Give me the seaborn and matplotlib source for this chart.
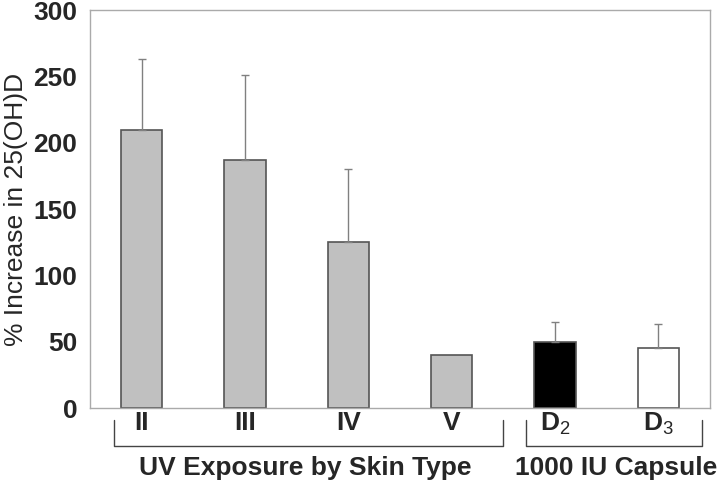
import matplotlib
matplotlib.use("Agg")
import matplotlib.pyplot as plt
import seaborn as sns

# data
groups = ["II", "III", "IV", "V", "D$_2$", "D$_3$"]
increase = [210, 187, 125, 40, 50, 45]
err_up = [53, 64, 55, 0, 15, 18]
bar_colors = ["#c0c0c0", "#c0c0c0", "#c0c0c0", "#c0c0c0", "#000000", "#ffffff"]

sns.set_style("white")
plt.rcParams["font.family"] = ["Liberation Sans", "DejaVu Sans"]
plt.rcParams["mathtext.fontset"] = "custom"
plt.rcParams["mathtext.rm"] = "Liberation Sans"
plt.rcParams["mathtext.it"] = "Liberation Sans"
plt.rcParams["mathtext.bf"] = "Liberation Sans:bold"

fig = plt.figure(figsize=(7.2, 4.84), dpi=100)
ax = fig.add_axes([0.125, 0.157, 0.861, 0.822])

sns.barplot(x=groups, y=increase, hue=groups, palette=bar_colors, legend=False,
            width=0.4, edgecolor="#555555", linewidth=1.2, ax=ax)

# upward-only error bars
idx = [i for i, e in enumerate(err_up) if e > 0]
ax.errorbar(idx, [increase[i] for i in idx],
            yerr=[[0] * len(idx), [err_up[i] for i in idx]],
            fmt="none", ecolor="#808080", elinewidth=1.0, capsize=3, capthick=1.0)

ax.set_xlim(-0.5, 5.5)
ax.set_ylim(0, 300)
ax.set_yticks([0, 50, 100, 150, 200, 250, 300])
ax.set_xticks(range(len(groups)))
ax.set_xticklabels(groups, fontsize=19, fontweight="bold")
ax.set_xticks([0.5, 1.5, 2.5, 3.5, 4.5], minor=True)
ax.tick_params(axis="x", which="major", length=0, pad=2)
ax.tick_params(axis="x", which="minor", length=4, color="#999999", direction="out")
ax.tick_params(axis="y", length=4, color="#999999", direction="out", labelsize=19, pad=5)
for lab in ax.get_yticklabels():
    lab.set_fontweight("bold")
ax.set_ylabel("% Increase in 25(OH)D", fontsize=19, labelpad=4)
ax.set_xlabel("")
for sp in ax.spines.values():
    sp.set_color("#aaaaaa")
    sp.set_linewidth(1.0)

# group brackets below the axis
tr = ax.get_xaxis_transform()
for x0, x1 in [(-0.268, 3.497), (3.72, 5.42)]:
    ax.plot([x0, x0, x1, x1], [-0.030, -0.0955, -0.0955, -0.030], color="#444444",
            lw=1.0, transform=tr, clip_on=False)
ax.text(1.58, -0.168, "UV Exposure by Skin Type", transform=tr, ha="center",
        va="baseline", fontsize=19, fontweight="bold")
ax.text(4.595, -0.168, "1000 IU Capsule", transform=tr, ha="center",
        va="baseline", fontsize=19, fontweight="bold")

fig.savefig("out.png", dpi=100)
